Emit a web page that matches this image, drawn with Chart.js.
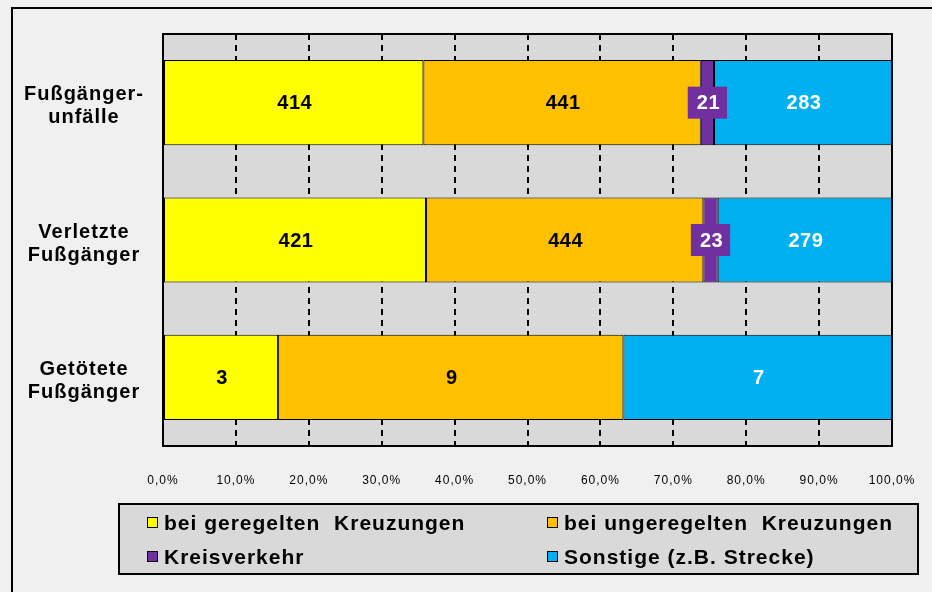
<!DOCTYPE html>
<html>
<head>
<meta charset="utf-8">
<script src="https://cdn.jsdelivr.net/npm/chart.js@4"></script>
<style>
  html, body { margin: 0; padding: 0; background: #F0F0F0; }
  #wrap { width: 932px; height: 592px; position: relative; }
</style>
</head>
<body>
<div id="wrap"><canvas id="chart" width="932" height="592"></canvas></div>
<script>
// data
const categories = [['Fußgänger-', 'unfälle'], ['Verletzte', 'Fußgänger'], ['Getötete', 'Fußgänger']];
const seriesNames = ['bei geregelten  Kreuzungen', 'bei ungeregelten  Kreuzungen', 'Kreisverkehr', 'Sonstige (z.B. Strecke)'];
const geregelt = [414, 421, 3];
const ungeregelt = [441, 444, 9];
const kreisverkehr = [21, 23, 0];
const sonstige = [283, 279, 7];
const seriesColors = ['#FFFF00', '#FFC000', '#7030A0', '#00B0F0'];
const labelColors = ['#000000', '#000000', '#FFFFFF', '#FFFFFF'];

const counts = [geregelt, ungeregelt, kreisverkehr, sonstige];
const totals = categories.map((c, i) => counts.reduce((s, arr) => s + arr[i], 0));

const FONT = '"Liberation Sans", Arial, sans-serif';

var datasets = counts.map(function(arr, k) {
    return {
        label: seriesNames[k],
        data: arr.map((v, i) => v / totals[i] * 100),
        raw: arr,
        backgroundColor: seriesColors[k],
        borderColor: '#000000',
        borderWidth: 1,
        borderSkipped: false,
        barPercentage: 0.62,
        categoryPercentage: 1.0
    };
});

// gray plot area + outer frame
const backgroundPlugin = {
    id: 'bg',
    beforeDraw(chart) {
        const ctx = chart.ctx;
        const a = chart.chartArea;
        ctx.save();
        ctx.fillStyle = '#D9D9D9';
        ctx.fillRect(a.left, a.top, a.right - a.left, a.bottom - a.top);
        ctx.strokeStyle = '#000000';
        ctx.lineWidth = 2;
        ctx.strokeRect(12, 8, 940, 600);
        ctx.restore();
        ctx.letterSpacing = '1px';
    }
};

// plot border, values, category labels, legend
const overlayPlugin = {
    id: 'overlay',
    afterDatasetsDraw(chart) {
        const ctx = chart.ctx;
        const a = chart.chartArea;
        ctx.save();
        ctx.strokeStyle = '#000000';
        ctx.lineWidth = 2;
        ctx.strokeRect(a.left, a.top, a.right - a.left, a.bottom - a.top);

        ctx.font = 'bold 20px ' + FONT;
        ctx.letterSpacing = '0.5px';
        ctx.textAlign = 'center';
        ctx.textBaseline = 'middle';
        chart.data.datasets.forEach(function(ds, k) {
            const meta = chart.getDatasetMeta(k);
            meta.data.forEach(function(bar, i) {
                const v = ds.raw[i];
                if (!v) return;
                const cx = (bar.x + bar.base) / 2;
                const cy = bar.y;
                const txt = String(v);
                if (k === 2) {
                    const w = ctx.measureText(txt).width + 16;
                    ctx.fillStyle = seriesColors[k];
                    ctx.fillRect(cx - w / 2, cy - 16, w, 32);
                }
                ctx.fillStyle = labelColors[k];
                ctx.fillText(txt, cx + 1, cy + 1);
            });
        });

        // category labels
        const y = chart.scales.y;
        ctx.font = 'bold 20px ' + FONT;
        ctx.letterSpacing = '1px';
        ctx.fillStyle = '#000000';
        categories.forEach(function(lines, i) {
            const cy = y.getPixelForValue(i);
            lines.forEach(function(line, j) {
                ctx.fillText(line, 84, cy - 8 + j * 23);
            });
        });
        ctx.restore();
    },
    afterDraw(chart) {
        const ctx = chart.ctx;
        ctx.save();
        ctx.fillStyle = '#D9D9D9';
        ctx.fillRect(119, 504, 799, 70);
        ctx.strokeStyle = '#000000';
        ctx.lineWidth = 2;
        ctx.strokeRect(119, 504, 799, 70);
        const colX = [147, 547];
        const rowY = [523, 557];
        ctx.font = 'bold 21px ' + FONT;
        ctx.letterSpacing = '1px';
        ctx.textAlign = 'left';
        ctx.textBaseline = 'middle';
        chart.data.datasets.forEach(function(ds, k) {
            const x = colX[k % 2];
            const yy = rowY[Math.floor(k / 2)];
            ctx.fillStyle = ds.backgroundColor;
            ctx.fillRect(x, yy - 6, 11, 11);
            ctx.lineWidth = 1;
            ctx.strokeRect(x + 0.5, yy - 5.5, 10, 10);
            ctx.fillStyle = '#000000';
            ctx.fillText(ds.label, x + 17, yy + 1);
        });
        ctx.restore();
    }
};

new Chart(document.getElementById('chart').getContext('2d'), {
    type: 'bar',
    data: { labels: categories.map(c => c.join(' ')), datasets: datasets },
    options: {
        indexAxis: 'y',
        responsive: false,
        animation: false,
        layout: { padding: { left: 0, right: 40, top: 34, bottom: 0 } },
        plugins: { legend: { display: false }, tooltip: { enabled: false } },
        scales: {
            x: {
                stacked: true,
                min: 0,
                max: 100,
                afterFit: function(s) { s.height = 146; s.paddingLeft = 0; s.paddingRight = 0; },
                grid: { color: '#000000', lineWidth: 2, drawTicks: false },
                border: { display: false, dash: [6, 5] },
                ticks: {
                    stepSize: 10,
                    padding: 27,
                    color: '#000000',
                    font: { family: FONT, size: 12 },
                    callback: v => v.toFixed(1).replace('.', ',') + '%'
                }
            },
            y: {
                stacked: true,
                afterFit: function(s) { s.width = 163; },
                grid: { display: false },
                border: { display: false },
                ticks: { display: false }
            }
        }
    },
    plugins: [backgroundPlugin, overlayPlugin]
});
</script>
</body>
</html>
